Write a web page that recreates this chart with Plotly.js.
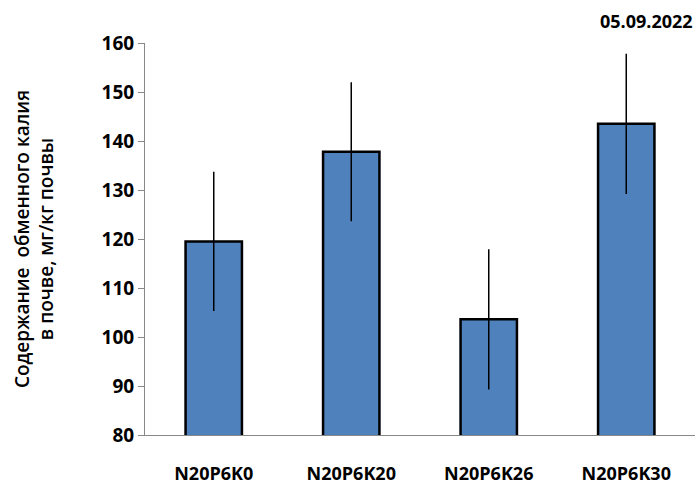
<!DOCTYPE html>
<html>
<head>
<meta charset="utf-8">
<script src="https://cdn.plot.ly/plotly-3.0.1.min.js"></script>
<style>body{margin:0;background:#fff}#chart{width:697px;height:488px}</style>
</head>
<body>
<div id="chart"></div>
<script>
var categories = ['N20P6K0', 'N20P6K20', 'N20P6K26', 'N20P6K30'];
var values = [119.5, 137.8, 103.6, 143.5];
var errors = [14.2, 14.2, 14.3, 14.3];

var trace = {
    type: 'bar',
    x: categories,
    y: values,
    width: 0.41,
    marker: { color: '#4f81bd', line: { color: '#000', width: 2.5 } },
    error_y: { type: 'data', array: errors, visible: true, color: '#000', thickness: 1.5, width: 0 }
};

var layout = {
    width: 697, height: 488,
    margin: { l: 145, r: 2, t: 43, b: 53 },
    font: { family: 'Open Sans, sans-serif', color: '#000' },
    showlegend: false,
    bargap: 0.59,
    xaxis: {
        showline: true, linecolor: '#888', linewidth: 1,
        ticks: '', ticklabelstandoff: 22, tickfont: { size: 18, weight: 'bold' }
    },
    yaxis: {
        range: [80, 160], dtick: 10, showgrid: false, zeroline: false,
        showline: true, linecolor: '#888', linewidth: 1,
        ticks: 'outside', ticklen: 6, tickcolor: '#888',
        tickfont: { size: 19, weight: 'bold' },
        title: { text: 'Содержание  обменного калия<br>в почве, мг/кг почвы', font: { size: 19, weight: 600 }, standoff: 42 }
    },
    annotations: [{
        text: '05.09.2022', xref: 'paper', yref: 'paper', x: 1, y: 1.02,
        xanchor: 'right', yanchor: 'bottom', showarrow: false,
        font: { size: 18, weight: 'bold' }
    }]
};

Plotly.newPlot('chart', [trace], layout, { displayModeBar: false });
</script>
</body>
</html>
